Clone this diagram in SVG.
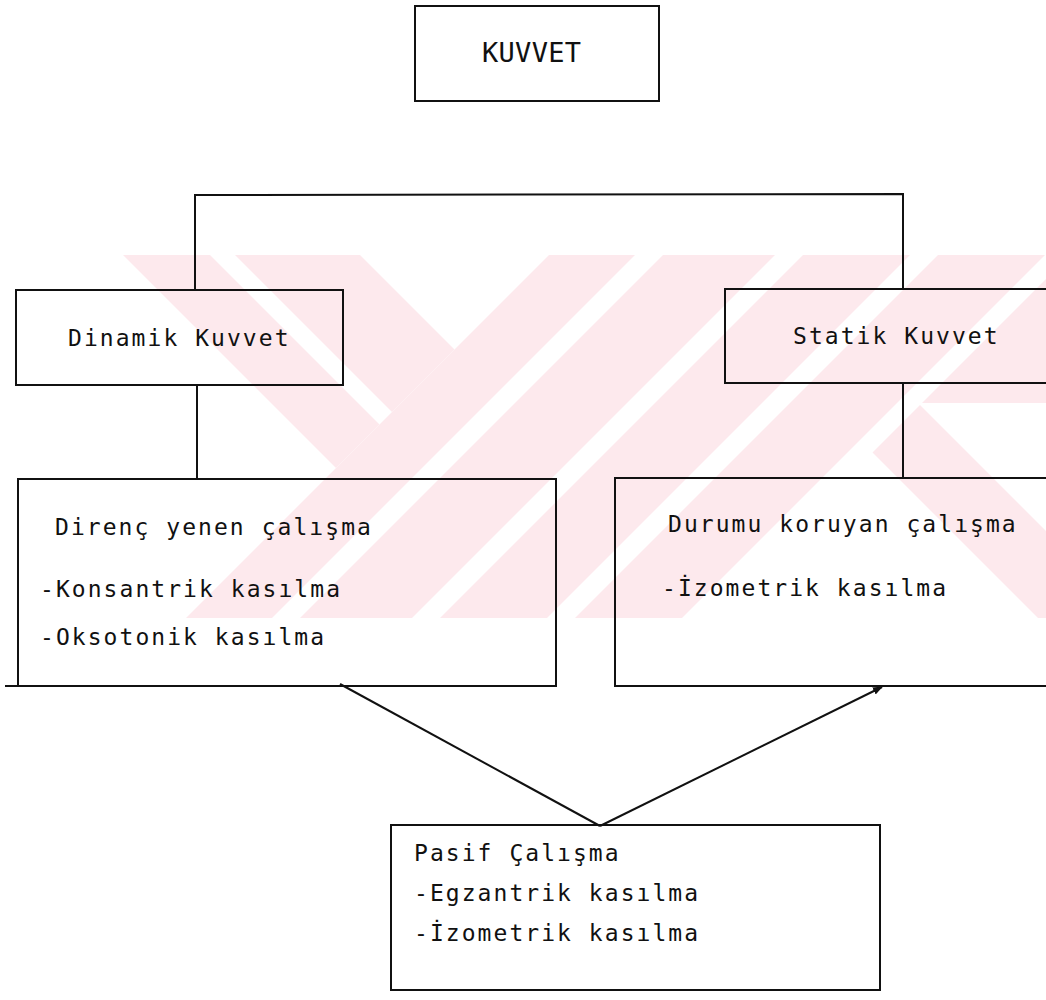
<svg xmlns="http://www.w3.org/2000/svg" width="1046" height="1000" viewBox="0 0 1046 1000">
<defs>
<style>
.box{fill:none;stroke:#111;stroke-width:2}
.ln{fill:none;stroke:#111;stroke-width:2}
.t{font-family:"DejaVu Sans Mono","Liberation Mono",monospace;font-size:23px;letter-spacing:2.05px;fill:#111}
.big{font-size:27px;letter-spacing:0.3px}
.wm{fill:#fde9ed}
</style>
<clipPath id="band"><rect x="0" y="255" width="1046" height="363"/></clipPath>
<marker id="ah" viewBox="0 0 10 10" refX="9" refY="5" markerWidth="5" markerHeight="5" orient="auto" markerUnits="strokeWidth">
<path d="M0,1 L10,5 L0,9 Z" fill="#111"/>
</marker>
</defs>
<rect width="1046" height="1000" fill="#fff"/>
<g id="watermark" clip-path="url(#band)">
<polygon class="wm" points="123,255 210,255 379.5,424.5 336,468"/>
<polygon class="wm" points="235,255 360,255 454.5,349.5 392,412"/>
<polygon class="wm" points="549,255 635,255 272,618 186,618"/>
<polygon class="wm" points="663,255 775,255 412,618 300,618"/>
<polygon class="wm" points="803,255 910,255 547,618 440,618"/>
<polygon class="wm" points="938,255 1045,255 682,618 575,618"/>
<polygon class="wm" points="872.5,452.5 920,405 1133,618 1038,618"/>
<polygon class="wm" points="922,403 1070,255 1100,255 1100,403"/>
</g>
<g id="connectors">
<polyline class="ln" points="195,290 195,195 903,194 903,289"/>
<line class="ln" x1="197" y1="385" x2="197" y2="479"/>
<line class="ln" x1="903" y1="384" x2="903" y2="478"/>
<line class="ln" x1="340" y1="684" x2="600" y2="826"/>
<line class="ln" x1="600" y1="826" x2="882" y2="687" marker-end="url(#ah)"/>
</g>
<g id="node-kuvvet">
<rect class="box" x="415" y="6" width="244" height="95"/>
<text class="t big" x="482" y="62">KUVVET</text>
</g>
<g id="node-dinamik">
<rect class="box" x="16" y="290" width="327" height="95"/>
<text class="t" x="68" y="346">Dinamik Kuvvet</text>
</g>
<g id="node-statik">
<rect class="box" x="725" y="289" width="340" height="94"/>
<text class="t" x="793" y="344">Statik Kuvvet</text>
</g>
<g id="node-direnc">
<rect class="box" x="18" y="479" width="538" height="207"/>
<line class="ln" x1="5" y1="686" x2="18" y2="686"/>
<text class="t" x="55" y="535">Direnç yenen çalışma</text>
<text class="t" x="40" y="597">-Konsantrik kasılma</text>
<text class="t" x="40" y="645">-Oksotonik kasılma</text>
</g>
<g id="node-durumu">
<rect class="box" x="615" y="478" width="450" height="208"/>
<text class="t" x="668" y="532">Durumu koruyan çalışma</text>
<text class="t" x="662" y="596">-İzometrik kasılma</text>
</g>
<g id="node-pasif">
<rect class="box" x="391" y="825" width="489" height="165"/>
<text class="t" x="414" y="861">Pasif Çalışma</text>
<text class="t" x="414" y="901">-Egzantrik kasılma</text>
<text class="t" x="414" y="941">-İzometrik kasılma</text>
</g>
</svg>
